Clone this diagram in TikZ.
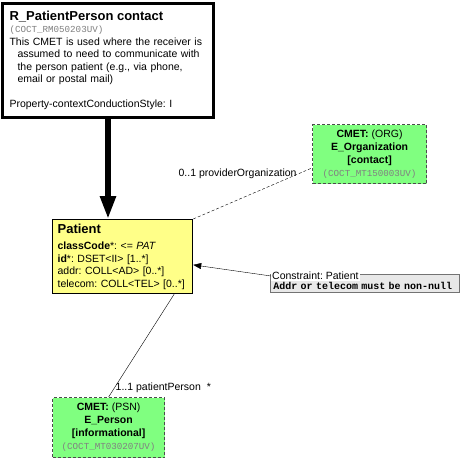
\documentclass[tikz,border=0pt]{standalone}
\usepackage{fontspec}
\setmainfont{Liberation Sans}
\setmonofont{Liberation Mono}
\usepackage{xcolor}
\definecolor{rolefill}{RGB}{255,255,136}
\definecolor{cmetfill}{RGB}{128,255,128}
\definecolor{codegray}{RGB}{128,128,128}
\definecolor{notefill}{RGB}{232,232,232}
\usepackage{tikz}
\usetikzlibrary{arrows.meta,calc}
\newcommand{\codeline}[1]{{\fontsize{9.2}{10}\selectfont\ttfamily\color{codegray}(#1)}}
\frenchspacing

\begin{document}
\begin{tikzpicture}[
  x=1pt, y=-1pt,
  entry/.style={rectangle,draw,line width=3pt,fill=white,anchor=north west,
                font=\fontsize{10.5}{12.5}\selectfont,align=left,
                text width=197pt,inner xsep=7pt,inner ysep=0pt,minimum height=114pt},
  role/.style={rectangle,draw,line width=1.2pt,fill=rolefill,anchor=north west,
               font=\fontsize{10.5}{12.5}\selectfont,align=left,
               text width=130pt,inner xsep=5pt,inner ysep=0pt,minimum height=74pt},
  cmet/.style={rectangle,draw=black!70,dash pattern=on 3pt off 2pt,line width=1.2pt,
               fill=cmetfill,anchor=north west,font=\fontsize{10.5}{13}\selectfont,
               align=center,inner sep=2pt},
  note/.style={rectangle,draw=black!55,line width=0.8pt,fill=notefill,anchor=north west,
               font=\fontsize{10}{11}\selectfont\ttfamily\bfseries,align=left,
               text width=183pt,inner xsep=3pt,inner ysep=0pt,
               text height=15pt,text depth=2.5pt},
  lbl/.style={font=\fontsize{10.5}{11}\selectfont,inner sep=1pt},
]
  \useasboundingbox (0,0) rectangle (462,458);

  \node[entry] (R) at (1,2)
    {{\fontsize{13}{13}\selectfont\bfseries R\_PatientPerson contact}\\
     \codeline{COCT\_RM050203UV}\\
     This CMET is used where the receiver is\\
     \hspace*{8pt}assumed to need to communicate with\\
     \hspace*{8pt}the person patient (e.g., via phone,\\
     \hspace*{8pt}email or postal mail)\\[12.5pt]
     Property-contextConductionStyle: I};

  \node[role] (P) at (52,219)
    {{\fontsize{13}{13}\selectfont\bfseries Patient}\\[4pt]
     \textbf{classCode}*: <= \textit{PAT}\\
     \textbf{id}*: DSET<II> [1..*]\\
     addr: COLL<AD> [0..*]\\
     telecom: COLL<TEL> [0..*]};

  \node[cmet,minimum width=114pt,minimum height=59pt] (O) at (312,124)
    {\textbf{CMET:} (ORG)\\
     \textbf{E\_Organization}\\
     \textbf{[contact]}\\
     \codeline{COCT\_MT150003UV}};

  \node[cmet,minimum width=112pt,minimum height=60pt] (N) at (52,397)
    {\textbf{CMET:} (PSN)\\
     \textbf{E\_Person}\\
     \textbf{[informational]}\\
     \codeline{COCT\_MT030207UV}};

  \node[note] (C) at (270,274) {Addr or telecom must be non-null};
  \node[lbl,fill=white,anchor=west] (CL) at (271,276) {Constraint: Patient};

  % connectors
  \draw[line width=5.5pt,-{Triangle[length=23pt,width=15pt]}]
    (R.south) -- (R.south |- P.north);
  \draw[thin,dash pattern=on 3pt off 2pt]
    (P.north east) -- ($(O.south west)!0.27!(O.north west)$)
    node[lbl,pos=0.88,anchor=east] {0..1 providerOrganization};
  \draw[-{Triangle[length=8pt,width=6pt]}]
    (CL.west) -- ($(P.north east)!0.61!(P.south east)$);
  \draw ($(P.south west)!0.865!(P.south east)$) -- (N.north)
    node[lbl,pos=0.91,anchor=west] {1..1 patientPerson\hspace{6pt}*};
\end{tikzpicture}
\end{document}
